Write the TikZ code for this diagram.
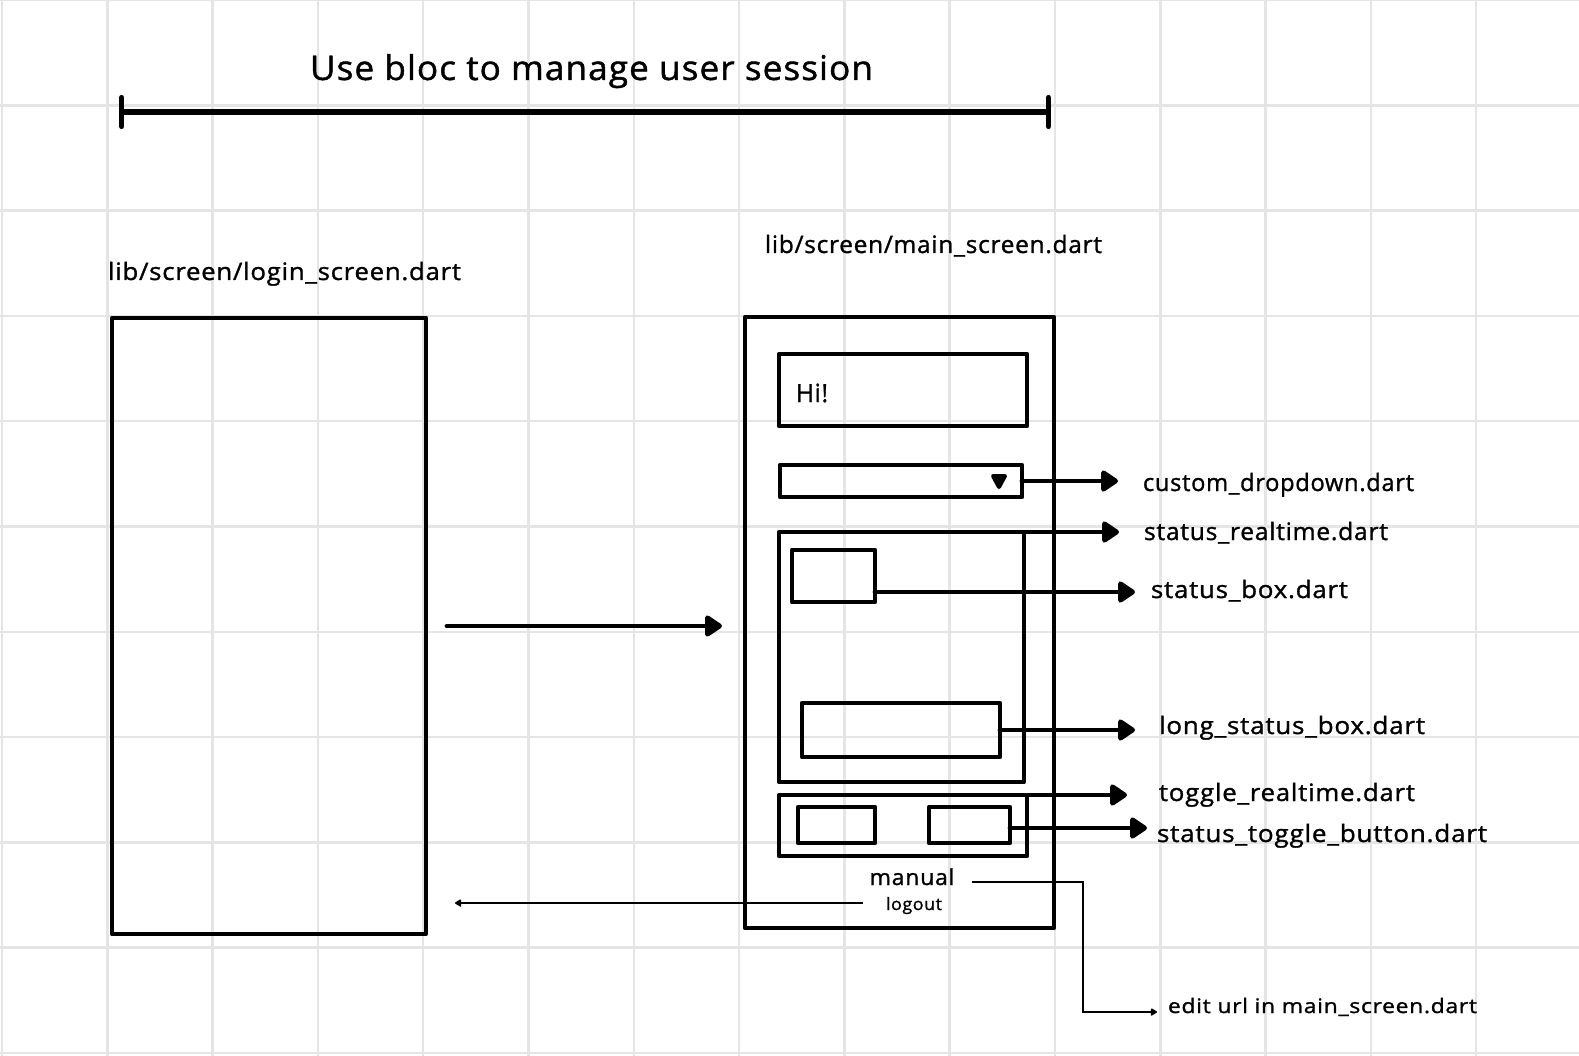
\documentclass[tikz,border=0pt]{standalone}
\usepackage{fontspec}
\usepackage{graphicx}
\setmainfont[LetterSpace=3,FakeBold=1.2]{Open Sans}
\usetikzlibrary{arrows.meta,fit,calc}
\newcommand\fsz[1]{\fontsize{#1}{#1}\selectfont}
\newcommand\tw[2]{\resizebox{#1pt}{\height}{#2}}
\begin{document}
\begin{tikzpicture}[x=1pt,y=-1pt,
  wbox/.style={draw,line width=4.8pt,inner sep=0pt,outer sep=0pt,line join=round},
  arr/.style={line width=4.8pt,line cap=round,-{Triangle[length=19pt,width=24pt,round]}},
  tarr/.style={line width=1.6pt,-{Triangle[length=7pt,width=8pt,round]}},
  lbl/.style={inner sep=0pt,outer sep=0pt,anchor=base west,font=\fsz{24}},
  gridline/.style={draw=black!10,line width=2.5pt},
]
\fill[white] (0,0) rectangle (1579,1056);
\useasboundingbox (0,0) rectangle (1579,1056);
\foreach \k in {0,...,15} \draw[gridline] ({2+105.3*\k},0) -- ({2+105.3*\k},1056);
\foreach \k in {0,...,10} \draw[gridline] (0,{105.3*\k}) -- (1579,{105.3*\k});

% title and bar
\node[lbl,font=\fsz{34}] (title) at (310,80) {\tw{563}{Use bloc to manage user session}};
\coordinate (barL) at (119,112);
\coordinate (barR) at (1051,112);
\draw[line width=5.2pt,{Bar[width=29pt,line cap=round]}-{Bar[width=29pt,line cap=round]}] (barL) -- (barR);

% screen labels
\node[lbl] (loginlbl) at (108,280) {\tw{353}{lib/screen/login\_screen.dart}};
\node[lbl] (mainlbl) at (765,253) {\tw{337}{lib/screen/main\_screen.dart}};

% boxes
\node[wbox,fit={(112,318) (426,934)}] (login) {};
\node[wbox,fit={(745,317) (1054,928)}] (main) {};
\node[wbox,fit={(779,354) (1027,426)}] (hi) {};
\node[wbox,fit={(780,465) (1022,497)}] (dd) {};
\node[wbox,fit={(779,532) (1024,782)}] (cont) {};
\node[wbox,fit={(792,550) (875,602)}] (sb) {};
\node[wbox,fit={(802,703) (1000,757)}] (lb) {};
\node[wbox,fit={(779,795) (1027,856)}] (tg) {};
\node[wbox,fit={(798,807) (875,843)}] (t1) {};
\node[wbox,fit={(929,807) (1010,843)}] (t2) {};

\node[lbl,font=\fsz{25}] (hitxt) at (796,402) {\tw{32}{Hi!}};
\draw[fill=black,line width=4pt,line join=round] (993,476) -- (1005,476) -- (999,487) -- cycle;

% manual logout
\node[inner sep=0pt,anchor=base,font=\fsz{22}] (manual) at (912,885) {\tw{85}{manual}};
\node[inner sep=0pt,anchor=base,font=\fsz{17}] (logout) at (914,910) {\tw{56}{logout}};

% file labels
\node[lbl] (l1) at (1143,491) {\tw{271}{custom\_dropdown.dart}};
\node[lbl] (l2) at (1144,540) {\tw{244}{status\_realtime.dart}};
\node[lbl] (l3) at (1151,598) {\tw{197}{status\_box.dart}};
\node[lbl] (l4) at (1159,734) {\tw{266}{long\_status\_box.dart}};
\node[lbl] (l5) at (1159,801) {\tw{256}{toggle\_realtime.dart}};
\node[lbl] (l6) at (1157,842) {\tw{330}{status\_toggle\_button.dart}};
\node[lbl,font=\fsz{20}] (edit) at (1168,1013) {\tw{309}{edit url in main\_screen.dart}};

% arrow ends
\coordinate (e1) at (1118,481);
\coordinate (e2) at (1119,532);
\coordinate (e3) at (1135,592);
\coordinate (e4) at (1135,730);
\coordinate (e5) at (1127,795);
\coordinate (e6) at (1147,828);

\draw[arr] (dd.east) -- (e1);
\draw[arr] (cont.north east) -- (e2);
\draw[arr] ([yshift=-16pt]sb.east) -- (e3);
\draw[arr] (lb.east) -- (e4);
\draw[arr] (tg.north east) -- (e5);
\draw[arr] ([yshift=-3pt]t2.east) -- (e6);

% login -> main
\draw[arr,shorten <=21pt,shorten >=23pt] (login.east) -- (login.east -| main.west);

% logout arrow
\coordinate (lo) at (863,903);
\draw[tarr] (lo) -- ([xshift=29pt]lo -| login.east);

% manual -> edit url
\coordinate (ms) at (972,882);
\coordinate (bendx) at (1083,882);
\coordinate (ee) at (1157,1012);
\draw[tarr,line join=miter] (ms) -- (bendx) |- (ee);
\end{tikzpicture}
\end{document}
